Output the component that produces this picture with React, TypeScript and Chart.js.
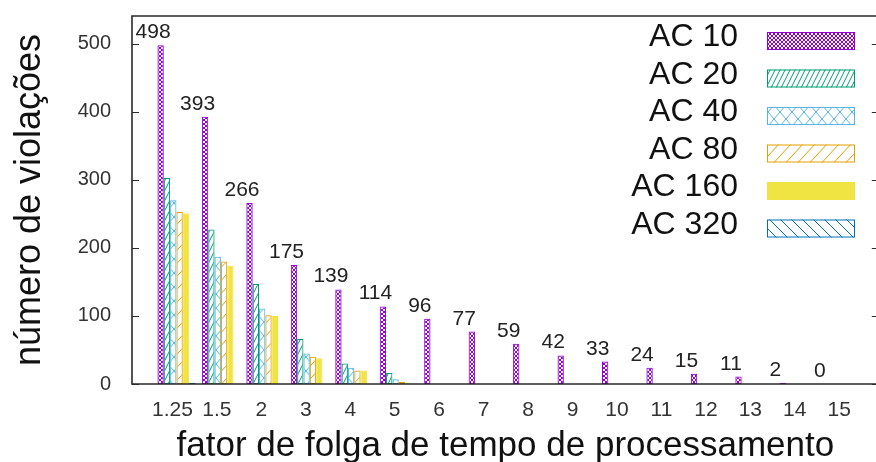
import React, { useEffect, useRef } from 'react';
import { Chart, registerables } from 'chart.js';

Chart.register(...registerables);

const categories = ['1.25', '1.5', '2', '3', '4', '5', '6', '7', '8', '9', '10', '11', '12', '13', '14', '15'];
const seriesNames = ['AC 10', 'AC 20', 'AC 40', 'AC 80', 'AC 160', 'AC 320'];
const ac10 = [498, 393, 266, 175, 139, 114, 96, 77, 59, 42, 33, 24, 15, 11, 2, 0];
const ac20 = [303, 227, 147, 66, 30, 16, 0, 0, 0, 0, 0, 0, 0, 0, 0, 0];
const ac40 = [270, 187, 111, 45, 24, 7, 0, 0, 0, 0, 0, 0, 0, 0, 0, 0];
const ac80 = [253, 180, 101, 40, 20, 3, 0, 0, 0, 0, 0, 0, 0, 0, 0, 0];
const ac160 = [251, 174, 100, 38, 20, 1, 0, 0, 0, 0, 0, 0, 0, 0, 0, 0];
const ac320 = [2, 0, 0, 0, 0, 0, 0, 0, 0, 0, 0, 0, 0, 0, 0, 0];
const yTicks = [0, 100, 200, 300, 400, 500];

const colors = ['#9400d3', '#009e73', '#56b4e9', '#e69f00', '#f0e442', '#0072b2'];
const patternKinds = ['denseCross', 'steepFwd', 'cross', 'fwd', 'solid', 'back'];
const FONT = "'Liberation Sans', Arial, sans-serif";

function makePattern(ctx: CanvasRenderingContext2D, kind: string, color: string): any {
  if (kind === 'solid') return color;
  let w = 4, h = 4;
  let fwd = false, back = false;
  if (kind === 'denseCross') { w = 4; h = 4; fwd = true; back = true; }
  if (kind === 'steepFwd') { w = 5; h = 10; fwd = true; }
  if (kind === 'cross') { w = 12; h = 14; fwd = true; back = true; }
  if (kind === 'fwd') { w = 12; h = 13; fwd = true; }
  if (kind === 'back') { w = 11; h = 11; back = true; }
  const c = document.createElement('canvas');
  c.width = w;
  c.height = h;
  const p = c.getContext('2d')!;
  p.strokeStyle = color;
  p.lineWidth = 1;
  p.beginPath();
  for (let k = -1; k <= 1; k++) {
    if (fwd) { p.moveTo(k * w, h); p.lineTo(k * w + w, 0); }
    if (back) { p.moveTo(k * w, 0); p.lineTo(k * w + w, h); }
  }
  p.stroke();
  return ctx.createPattern(c, 'repeat');
}

export default function App() {
  const ref = useRef<HTMLCanvasElement | null>(null);

  useEffect(() => {
    const canvas = ref.current!;
    const ctx = canvas.getContext('2d')!;
    const series = [ac10, ac20, ac40, ac80, ac160, ac320];
    const patterns = colors.map((c, i) => makePattern(ctx, patternKinds[i], c));

    const overlayPlugin = {
      id: 'gnuOverlay',
      afterDatasetsDraw(chart: any) {
        const g: CanvasRenderingContext2D = chart.ctx;
        const meta = chart.getDatasetMeta(0);
        g.save();
        g.font = `21px ${FONT}`;
        g.fillStyle = '#222';
        g.textAlign = 'center';
        g.textBaseline = 'alphabetic';
        meta.data.forEach((el: any, i: number) => {
          g.fillText(String(ac10[i]), el.x - 7.5, el.y - 7);
        });
        g.restore();
      },
      afterDraw(chart: any) {
        const g: CanvasRenderingContext2D = chart.ctx;
        const a = chart.chartArea;
        const y = chart.scales.y;
        g.save();
        // frame
        g.strokeStyle = '#2a2a2a';
        g.lineWidth = 1.6;
        g.beginPath();
        g.moveTo(a.left, a.top);
        g.lineTo(a.right, a.top);
        g.lineTo(a.right, a.bottom);
        g.lineTo(a.left, a.bottom);
        g.closePath();
        g.stroke();
        g.lineWidth = 1.2;
        g.beginPath();
        yTicks.forEach((v) => {
          const py = Math.round(y.getPixelForValue(v)) + 0.5;
          g.moveTo(a.left, py);
          g.lineTo(a.left + 7, py);
          g.moveTo(a.right, py);
          g.lineTo(a.right - 7, py);
        });
        g.stroke();
        // legend
        seriesNames.forEach((name, i) => {
          const rowY = i * 37.5;
          g.font = `32px ${FONT}`;
          g.fillStyle = '#111';
          g.textAlign = 'right';
          g.textBaseline = 'alphabetic';
          g.fillText(name, 738, 46 + rowY);
          g.fillStyle = patterns[i];
          g.fillRect(767, 32 + rowY, 88, 18);
          g.strokeStyle = colors[i];
          g.lineWidth = 1;
          g.strokeRect(767.5, 32.5 + rowY, 87, 17);
        });
        g.restore();
      },
    };

    const chart = new Chart(canvas, {
      type: 'bar',
      data: {
        datasets: series.map((vals, si) => ({
          label: seriesNames[si],
          data: vals.map((v, i) => ({ x: i, y: v })),
          backgroundColor: patterns[si],
          borderColor: colors[si],
          borderWidth: 1,
          borderSkipped: false,
          categoryPercentage: 0.855,
          barPercentage: 1,
        })),
      } as any,
      options: {
        responsive: false,
        animation: false,
        devicePixelRatio: 1,
        layout: { padding: { top: 16, right: 11.2, left: 0, bottom: 0 } },
        plugins: { legend: { display: false }, tooltip: { enabled: false } },
        scales: {
          x: {
            type: 'linear',
            min: -1,
            max: 15.8,
            offset: false,
            grid: { display: false, drawTicks: false },
            border: { display: false },
            afterBuildTicks: (s: any) => {
              s.ticks = categories.map((_, i) => ({ value: i }));
            },
            afterFit: (s: any) => {
              s.height = 86;
              s.paddingLeft = 0;
              s.paddingRight = 0;
            },
            ticks: {
              autoSkip: false,
              maxRotation: 0,
              padding: 14,
              labelOffset: -4,
              color: '#333',
              font: { size: 21, family: FONT },
              callback: (v: any) => categories[v] ?? '',
            },
            title: {
              display: true,
              text: 'fator de folga de tempo de processamento',
              color: '#111',
              font: { size: 35, family: FONT },
              padding: { top: 0, bottom: 3 },
            },
          },
          y: {
            min: 0,
            max: 541,
            grid: { display: false, drawTicks: false },
            border: { display: false },
            afterBuildTicks: (s: any) => {
              s.ticks = yTicks.map((v) => ({ value: v }));
            },
            afterFit: (s: any) => {
              s.width = 132;
              s.paddingTop = 0;
              s.paddingBottom = 0;
            },
            ticks: {
              padding: 21,
              color: '#333',
              font: { size: 20, family: FONT },
            },
            title: {
              display: true,
              text: 'número de violações',
              color: '#111',
              font: { size: 36, family: FONT },
              padding: { top: 8, bottom: 0 },
            },
          },
        },
      } as any,
      plugins: [overlayPlugin],
    });
    return () => chart.destroy();
  }, []);

  return (
    <div style={{ position: 'fixed', left: 0, top: 0, width: 876, height: 462, overflow: 'hidden', background: '#fff' }}>
      <canvas ref={ref} width={890} height={470} style={{ display: 'block' }} />
    </div>
  );
}
